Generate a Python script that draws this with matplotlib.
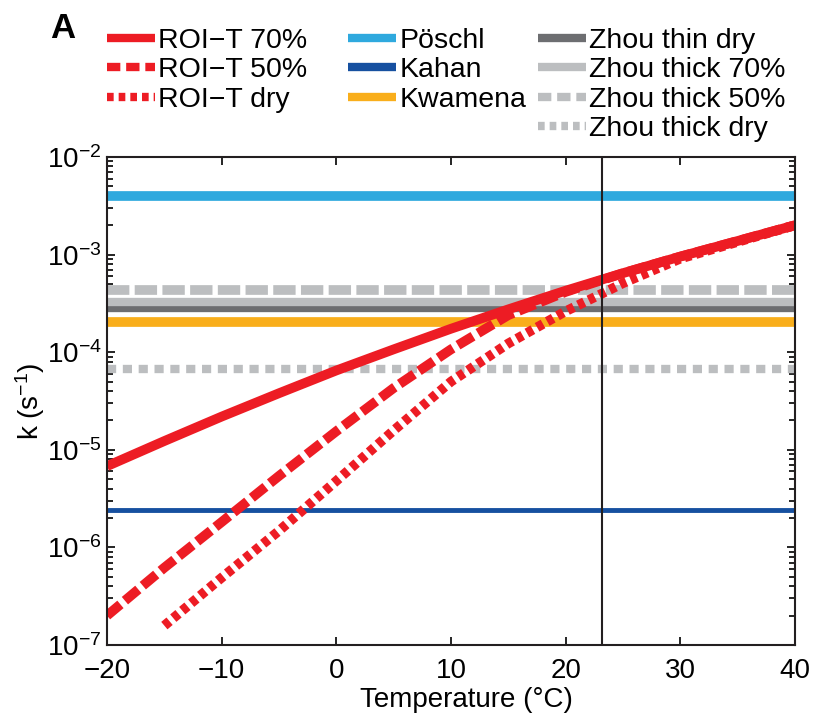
import matplotlib
matplotlib.use("Agg")
import matplotlib.pyplot as plt
from matplotlib.lines import Line2D

plt.rcParams['font.family'] = ['Liberation Sans', 'DejaVu Sans']
plt.rcParams['mathtext.default'] = 'regular'

# ROI-T curves
temp_70 = [-20, -15, -10, -5, 0, 5, 10, 15, 20, 25, 30, 35, 40]
k_70 = [6.8e-6, 1.23e-5, 2.19e-5, 3.8e-5, 6.5e-5, 1.07e-4, 1.74e-4, 2.75e-4, 4.27e-4, 6.46e-4, 9.55e-4, 1.38e-3, 2.0e-3]

temp_50 = [-20, -15, -10, -5, 0, 5, 10, 15, 20, 25, 30, 35, 40]
k_50 = [2.0e-7, 6.2e-7, 1.82e-6, 5.4e-6, 1.55e-5, 4.3e-5, 1.07e-4, 2.4e-4, 4.15e-4, 6.45e-4, 9.55e-4, 1.38e-3, 2.0e-3]

temp_dry = [-15, -10, -5, 0, 5, 10, 15, 20, 23, 25, 30, 35, 40]
k_dry = [1.58e-7, 4.9e-7, 1.48e-6, 4.8e-6, 1.58e-5, 5.0e-5, 1.23e-4, 2.63e-4, 3.9e-4, 5.1e-4, 9.1e-4, 1.35e-3, 2.0e-3]

# constant literature values
k_poschl = 4.0e-3
k_kahan = 2.4e-6
k_kwamena = 2.06e-4
k_zhou_thin_dry = 2.85e-4
k_zhou_thick_70 = 3.3e-4
k_zhou_thick_50 = 4.3e-4
k_zhou_thick_dry = 6.7e-5

t_line = 23.2
xlim = [-20, 40]

red = '#ED1C24'
blue_l = '#2FA9DE'
blue_d = '#1650A0'
orange = '#F9AE1B'
gray_d = '#6D6E71'
gray_l = '#BCBEC0'
fs = 20

fig = plt.figure(figsize=(8.15, 7.15), dpi=100)
ax = fig.add_axes([0.1313, 0.0979, 0.8442, 0.6825])

def hline(y, color, lw, dashes=None):
    l, = ax.plot(xlim, [y, y], color=color, lw=lw, solid_capstyle='butt')
    if dashes:
        l.set_dashes(dashes)
        l.set_dash_capstyle('butt')
    return l

hline(k_zhou_thin_dry, gray_d, 6)
hline(k_zhou_thick_70, gray_l, 6)
hline(k_zhou_thick_50, gray_l, 7, dashes=(2.3, 0.55))
hline(k_zhou_thick_dry, gray_l, 6, dashes=(1.1, 0.8))
hline(k_poschl, blue_l, 7)
hline(k_kahan, blue_d, 3.5)
hline(k_kwamena, orange, 7)

ax.plot(temp_70, k_70, color=red, lw=7, solid_capstyle='butt')
l50, = ax.plot(temp_50, k_50, color=red, lw=7)
l50.set_dashes((1.8, 0.6))
ldry, = ax.plot(temp_dry, k_dry, color=red, lw=7)
ldry.set_dashes((0.7, 0.5))

ax.axvline(t_line, color='#231F20', lw=1.5)

ax.set_yscale('log')
ax.set_xlim(xlim)
ax.set_ylim(1e-7, 1e-2)
ax.set_xticks([-20, -10, 0, 10, 20, 30, 40])
ax.set_xticklabels(['\u221220', '\u221210', '0', '10', '20', '30', '40'])
ax.tick_params(direction='in', which='both', top=True, right=True, labelsize=fs, width=1.2)
ax.tick_params(which='major', length=6)
ax.tick_params(which='minor', length=4)
ax.tick_params(axis='x', pad=9)
ax.tick_params(axis='y', pad=4)
for s in ax.spines.values():
    s.set_linewidth(1.5)
    s.set_color('#231F20')
ax.set_xlabel('Temperature (\u00b0C)', fontsize=fs)
ax.xaxis.set_label_coords(0.522, -0.086)
ax.set_ylabel('k (s$^{-1}$)', fontsize=fs, labelpad=0)

# legend, three fixed columns
def h(color, lw, dashes=None):
    l = Line2D([], [], color=color, lw=lw, solid_capstyle='butt')
    if dashes:
        l.set_dashes(dashes)
    return l

cols = [
    ([h(red, 6), h(red, 6, (1.6, 0.7)), h(red, 6, (0.8, 0.6))],
     ['ROI\u2212T 70%', 'ROI\u2212T 50%', 'ROI\u2212T dry'], 107),
    ([h(blue_l, 6), h(blue_d, 6), h(orange, 6)],
     ['P\u00f6schl', 'Kahan', 'Kwamena'], 348),
    ([h(gray_d, 6), h(gray_l, 6), h(gray_l, 6, (1.6, 0.7)), h(gray_l, 6, (0.8, 0.6))],
     ['Zhou thin dry', 'Zhou thick 70%', 'Zhou thick 50%', 'Zhou thick dry'], 538),
]
for hs, ls, x0 in cols:
    fig.legend(hs, ls, loc='upper left', bbox_to_anchor=(x0 / 815, 1 - 28 / 715),
               frameon=False, fontsize=20.5, handlelength=1.7, handletextpad=0.1,
               labelspacing=0.12, borderpad=0, borderaxespad=0)

fig.text(50 / 815, 1 - 28 / 715, 'A', fontsize=25, fontweight='bold', va='center')

fig.savefig('out.png', dpi=100)
